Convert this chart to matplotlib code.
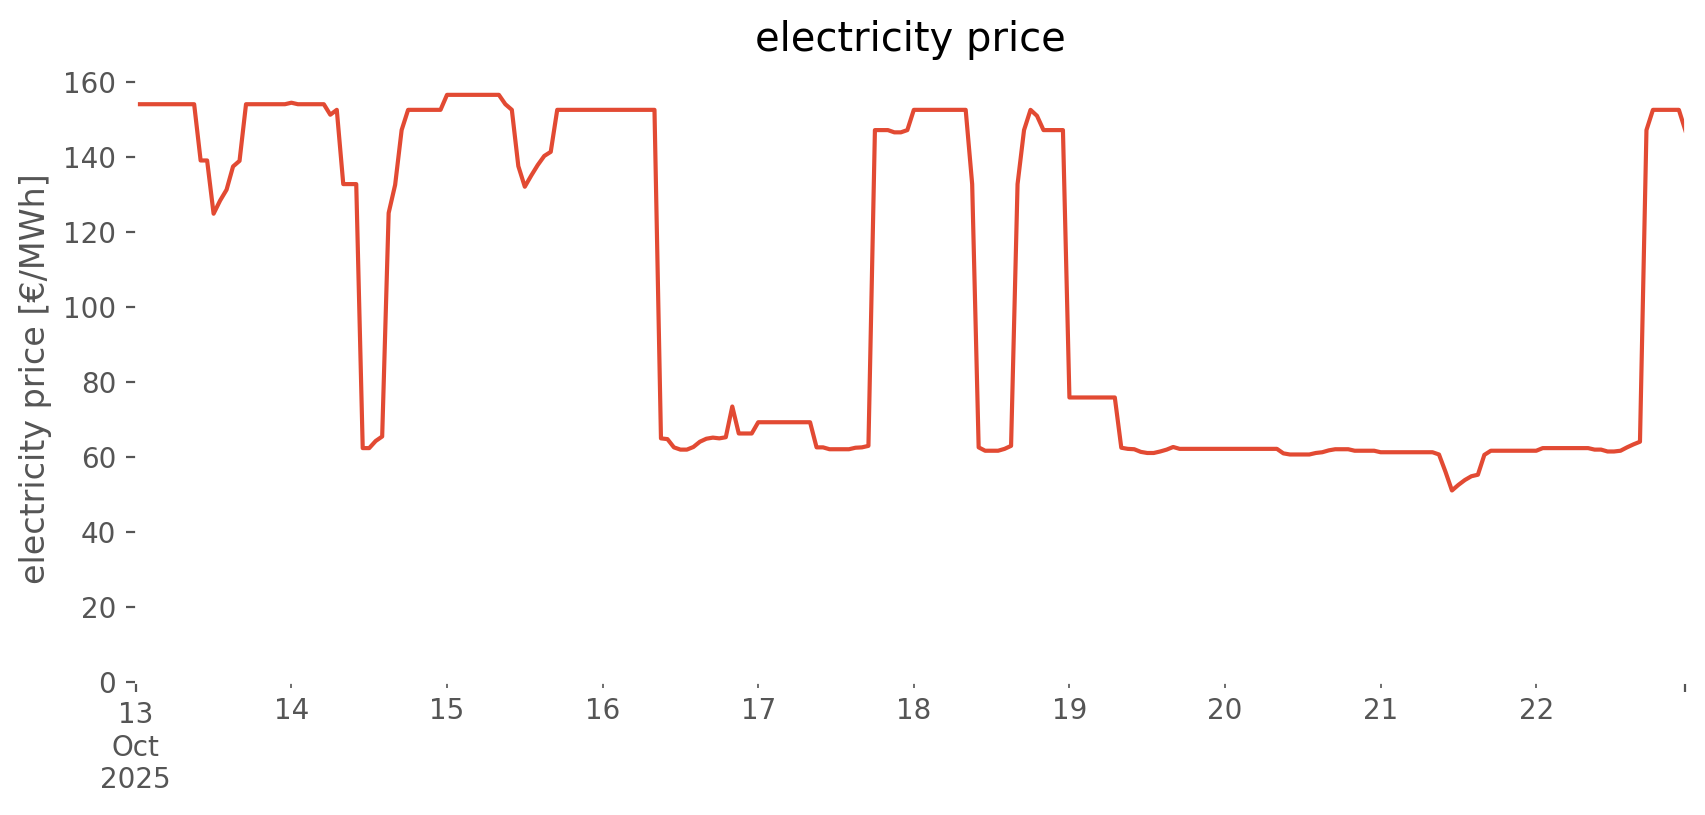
import numpy as np
import pandas as pd
from matplotlib import pyplot as plt

# hourly day-ahead price, 13 Oct 2025 00:00 .. 22 Oct 2025 23:00
start = '2025-10-13 00:00'
day_13 = [154, 154, 154, 154, 154, 154, 154, 154, 154, 154, 139, 139,
          124.8, 128.3, 131.2, 137.4, 138.9, 154, 154, 154, 154, 154, 154, 154]
day_14 = [154.4, 154, 154, 154, 154, 154, 151.2, 152.5, 132.7, 132.7, 132.7, 62.3,
          62.3, 64.2, 65.4, 125, 132.5, 147.1, 152.5, 152.5, 152.5, 152.5, 152.5, 152.5]
day_15 = [156.5, 156.5, 156.5, 156.5, 156.5, 156.5, 156.5, 156.5, 156.5, 154, 152.5, 137.5,
          132, 135, 137.8, 140.2, 141.3, 152.5, 152.5, 152.5, 152.5, 152.5, 152.5, 152.5]
day_16 = [152.5, 152.5, 152.5, 152.5, 152.5, 152.5, 152.5, 152.5, 152.5, 64.9, 64.7, 62.5,
          61.9, 61.9, 62.6, 64, 64.8, 65.1, 64.9, 65.2, 73.4, 66.2, 66.2, 66.2]
day_17 = [69.2, 69.2, 69.2, 69.2, 69.2, 69.2, 69.2, 69.2, 69.2, 62.5, 62.5, 62,
          62, 62, 62, 62.4, 62.5, 62.9, 147.1, 147.1, 147.1, 146.5, 146.5, 147.1]
day_18 = [152.5, 152.5, 152.5, 152.5, 152.5, 152.5, 152.5, 152.5, 152.5, 132.7, 62.5, 61.6,
          61.6, 61.6, 62.1, 62.9, 132.7, 147.1, 152.5, 150.9, 147.1, 147.1, 147.1, 147.1]
day_19 = [75.8, 75.8, 75.8, 75.8, 75.8, 75.8, 75.8, 75.8, 62.4, 62.1, 62.0, 61.3,
          61.0, 61.0, 61.4, 61.9, 62.6, 62.1, 62.1, 62.1, 62.1, 62.1, 62.1, 62.1]
day_20 = [62.1, 62.1, 62.1, 62.1, 62.1, 62.1, 62.1, 62.1, 62.1, 60.9, 60.6, 60.6,
          60.6, 60.6, 61.0, 61.2, 61.7, 62.0, 62.0, 62.0, 61.6, 61.6, 61.6, 61.6]
day_21 = [61.2, 61.2, 61.2, 61.2, 61.2, 61.2, 61.2, 61.2, 61.2, 60.6, 56, 51,
          52.5, 53.8, 54.8, 55.2, 60.5, 61.6, 61.6, 61.6, 61.6, 61.6, 61.6, 61.6]
day_22 = [61.6, 62.3, 62.3, 62.3, 62.3, 62.3, 62.3, 62.3, 62.3, 61.9, 61.9, 61.4,
          61.4, 61.6, 62.5, 63.3, 64, 147.1, 152.5, 152.5, 152.5, 152.5, 152.5, 147]

prices = day_13 + day_14 + day_15 + day_16 + day_17 + day_18 + day_19 + day_20 + day_21 + day_22
idx = pd.date_range(start, periods=len(prices), freq='h')
series = pd.Series(prices, index=idx, name='electricity price')

plt.style.use('ggplot')
plt.rcParams['axes.facecolor'] = 'white'

fig = plt.figure(figsize=(1706 / 200, 815 / 200), dpi=200)
ax = fig.add_axes([0.0796, 0.1635, 0.9083, 0.7444])
series.plot(ax=ax)
ax.set_ylim(bottom=0)
ax.set_title('electricity price', pad=8.5)
ax.set_ylabel('electricity price [€/MWh]')
ax.set_xlabel('')

fig.savefig('out.png', dpi=200)
